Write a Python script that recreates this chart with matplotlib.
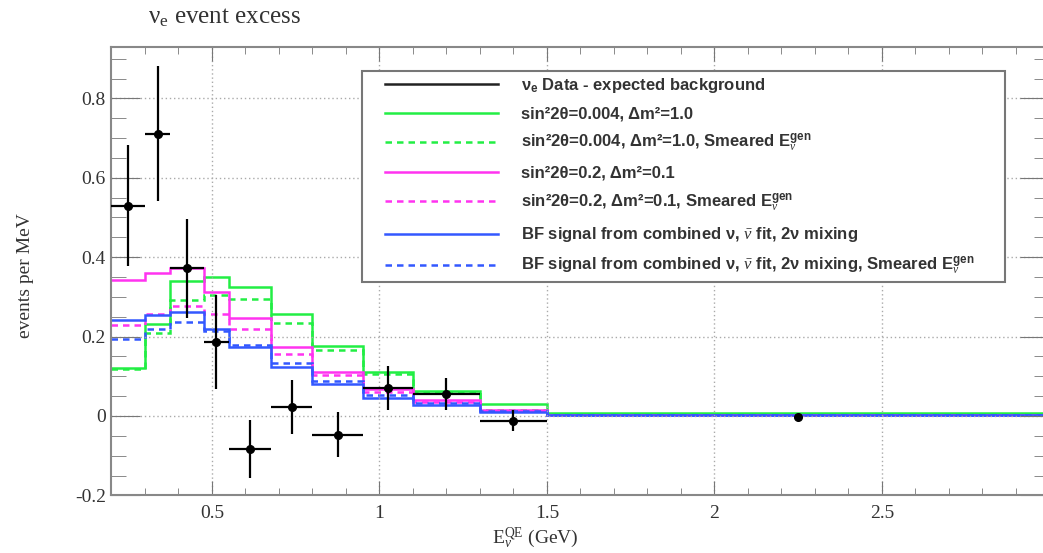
import matplotlib
matplotlib.use("Agg")
import matplotlib.pyplot as plt
from matplotlib.lines import Line2D
from matplotlib.legend_handler import HandlerLine2D
from matplotlib.ticker import MultipleLocator, FormatStrFormatter

plt.rcParams['mathtext.fontset'] = 'custom'
plt.rcParams['mathtext.rm'] = 'Liberation Serif'
plt.rcParams['mathtext.it'] = 'Liberation Serif:italic'
plt.rcParams['mathtext.bf'] = 'Liberation Sans:bold'

# bin edges (GeV)
edges = [0.2, 0.3, 0.375, 0.475, 0.55, 0.675, 0.8, 0.95, 1.1, 1.3, 1.5, 3.0]

# data - expected background
data_x = [0.25, 0.3375, 0.425, 0.5125, 0.6125, 0.7375, 0.875, 1.025, 1.2, 1.4, 2.25]
data_xerr = [0.05, 0.0375, 0.05, 0.0375, 0.0625, 0.0625, 0.075, 0.075, 0.1, 0.1, 0.0]
data_y = [0.53, 0.711, 0.372, 0.186, -0.084, 0.023, -0.047, 0.071, 0.056, -0.012, -0.002]
data_yerr = [0.153, 0.17, 0.125, 0.118, 0.073, 0.068, 0.056, 0.055, 0.04, 0.027, 0.005]

# model predictions per bin
green = [0.121, 0.232, 0.340, 0.350, 0.325, 0.256, 0.176, 0.110, 0.064, 0.030, 0.007]
green_sm = [0.119, 0.209, 0.291, 0.306, 0.294, 0.233, 0.165, 0.105, 0.060, 0.016, 0.005]
magenta = [0.343, 0.361, 0.372, 0.313, 0.247, 0.174, 0.111, 0.068, 0.040, 0.016, 0.003]
magenta_sm = [0.230, 0.257, 0.278, 0.256, 0.219, 0.156, 0.104, 0.060, 0.034, 0.013, 0.003]
blue = [0.243, 0.254, 0.262, 0.219, 0.174, 0.123, 0.080, 0.046, 0.028, 0.011, 0.002]
blue_sm = [0.194, 0.218, 0.236, 0.213, 0.180, 0.133, 0.087, 0.053, 0.032, 0.012, 0.002]

labels = [
    r"ν$_\mathbf{e}$ Data - expected background",
    "sin²2θ=0.004, Δm²=1.0",
    r"sin²2θ=0.004, Δm²=1.0, Smeared E$_{\nu}^{\mathbf{gen}}$",
    "sin²2θ=0.2, Δm²=0.1",
    r"sin²2θ=0.2, Δm²=0.1, Smeared E$_{\nu}^{\mathbf{gen}}$",
    r"BF signal from combined ν, $\bar{\nu}$ fit, 2ν mixing",
    r"BF signal from combined ν, $\bar{\nu}$ fit, 2ν mixing, Smeared E$_{\nu}^{\mathbf{gen}}$",
]

c_green = '#22ee44'
c_mag = '#ff33f0'
c_blue = '#3358ff'
dash = (0, (2.6, 2.0))
lw = 1.8

fig = plt.figure(figsize=(10.43, 5.53), dpi=100)
ax = fig.add_axes([0.1069, 0.1042, 0.8993, 0.8112])

series = [(green, c_green, '-'), (green_sm, c_green, dash),
          (magenta, c_mag, '-'), (magenta_sm, c_mag, dash),
          (blue, c_blue, '-'), (blue_sm, c_blue, dash)]
handles = [Line2D([], [], color='#222222', lw=lw)]
for vals, col, ls in series:
    ax.stairs(vals, edges, color=col, lw=lw, ls=ls, baseline=None)
    handles.append(Line2D([], [], color=col, lw=lw, ls=ls))

ax.errorbar(data_x, data_y, xerr=data_xerr, yerr=data_yerr, fmt='o',
            color='black', ms=5.5, elinewidth=1.6, capsize=0, zorder=5)

ax.set_xlim(0.2, 3.0)
ax.set_ylim(-0.2, 0.93)
ax.set_xticks([0.5, 1.0, 1.5, 2.0, 2.5])
ax.xaxis.set_minor_locator(MultipleLocator(0.1))
ax.yaxis.set_major_locator(MultipleLocator(0.2))
ax.yaxis.set_minor_locator(MultipleLocator(0.05))
ax.xaxis.set_major_formatter(FormatStrFormatter('%g'))
ax.yaxis.set_major_formatter(FormatStrFormatter('%g'))

ax.grid(True, which='major', ls=(0, (1, 2)), color='#aaaaaa', lw=1.0)
ax.tick_params(which='both', direction='in', top=True, right=True, color='#777777')
ax.tick_params(axis='y', which='major', length=21, pad=4)
ax.tick_params(axis='y', which='minor', length=11)
ax.tick_params(axis='x', which='major', length=10, pad=7)
ax.tick_params(axis='x', which='minor', length=5)
for lab in ax.get_xticklabels() + ax.get_yticklabels():
    lab.set_family('Liberation Serif')
    lab.set_fontsize(14)
    lab.set_color('#333333')
for sp in ax.spines.values():
    sp.set_color('#888888')
    sp.set_linewidth(1.5)

ax.set_xlabel(r"E$_{\nu}^{\mathrm{QE}}$ (GeV)", family='Liberation Serif', fontsize=14, color='#333333')
ax.xaxis.set_label_coords(0.452, -0.067)
ax.set_ylabel("events per MeV", family='Liberation Serif', fontsize=14, color='#333333')
ax.yaxis.set_label_coords(-0.083, 0.49)

fig.text(0.142, 0.968, r"ν$_\mathrm{e}$ event excess", family='Liberation Serif',
         fontsize=18, color='#333333', va='center', ha='left')

leg = ax.legend(handles, labels, loc='upper left',
                bbox_to_anchor=(0.267, 0.5, 0.6855, 0.446), mode='expand',
                borderaxespad=0, fancybox=False, framealpha=1,
                edgecolor='#777777', handlelength=7.86, handletextpad=1.38,
                labelspacing=0.69, borderpad=0.3,
                handler_map={Line2D: HandlerLine2D(xpad=1.08)},
                prop={'family': 'Liberation Sans', 'weight': 'bold', 'size': 12})
leg.get_frame().set_linewidth(1.5)
for t in leg.get_texts():
    t.set_color('#333333')

fig.savefig("out.png", dpi=100)
